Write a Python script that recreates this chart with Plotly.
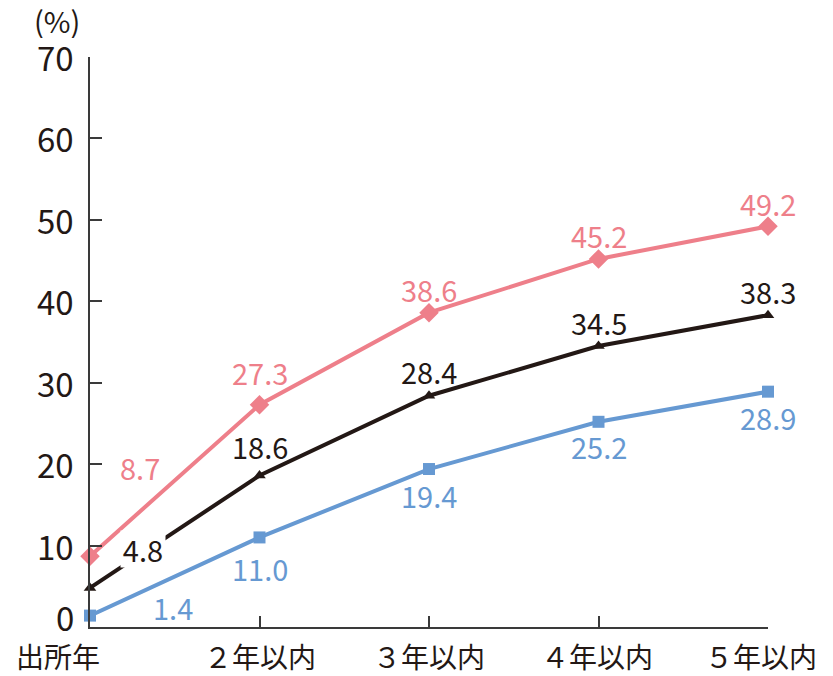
import plotly.graph_objects as go

categories = ["出所年", "２年以内", "３年以内", "４年以内", "５年以内"]
pink_vals = [8.7, 27.3, 38.6, 45.2, 49.2]
black_vals = [4.8, 18.6, 28.4, 34.5, 38.3]
blue_vals = [1.4, 11.0, 19.4, 25.2, 28.9]
y_ticks = [0, 10, 20, 30, 40, 50, 60, 70]

PINK = "#EE7F8A"
BLACK = "#231815"
BLUE = "#6699D2"
AXIS = "#3a3a3a"
FONT = "Noto Sans CJK JP"

fig = go.Figure()
series = [
    (pink_vals, PINK, "diamond", 15),
    (black_vals, BLACK, "triangle-up", 11),
    (blue_vals, BLUE, "square", 12),
]
xs = list(range(len(categories)))
for vals, col, sym, sz in series:
    fig.add_trace(go.Scatter(
        x=xs, y=vals, mode="lines+markers",
        line=dict(color=col, width=4),
        marker=dict(symbol=sym, size=sz, color=col),
        showlegend=False, hoverinfo="skip", cliponaxis=False,
    ))

# label offsets (xshift, yshift) in pixels
pink_off = [(50, 89), (0, 33), (0, 24), (0, 24), (0, 23)]
black_off = [(53, 39), (0, 30), (0, 25), (0, 24), (0, 24)]
blue_off = [(83, 9), (0, -31), (0, -26), (0, -24), (0, -25)]

ann = []
for vals, col, offs, bg in [(pink_vals, PINK, pink_off, None),
                            (black_vals, BLACK, black_off, "white"),
                            (blue_vals, BLUE, blue_off, None)]:
    for i, (v, (dx, dy)) in enumerate(zip(vals, offs)):
        a = dict(x=i, y=v, xref="x", yref="y", text=f"{v:.1f}", showarrow=False,
                 xshift=dx, yshift=dy, font=dict(family=FONT, size=29, color=col),
                 xanchor="center", yanchor="middle")
        if bg and i == 0:
            a.update(bgcolor=bg, borderpad=0, width=44, height=36)
        ann.append(a)

# x category labels
x_label_shift = [-32, 0, 0, -2, -7]
for i, c in enumerate(categories):
    ann.append(dict(x=i, y=0, xref="x", yref="y", text=c, showarrow=False,
                    xshift=x_label_shift[i], yshift=-10, yanchor="top", xanchor="center",
                    height=34,
                    font=dict(family=FONT, size=28, color=BLACK)))

# y tick labels
for t in y_ticks:
    ann.append(dict(x=0, y=t, xref="x", yref="y", text=str(t), showarrow=False,
                    xshift=-14, yshift=(10 if t == 0 else 0), xanchor="right", yanchor="middle",
                    height=34,
                    font=dict(family=FONT, size=33, color=BLACK)))

# (%) unit label
ann.append(dict(x=0, y=70, xref="x", yref="y", text="(%)", showarrow=False,
                xshift=-33, yshift=37, xanchor="center", yanchor="middle", height=36,
                font=dict(family=FONT, size=29, color=BLACK)))

fig.update_layout(
    width=833, height=676,
    margin=dict(l=90, r=65, t=57, b=49),
    paper_bgcolor="white", plot_bgcolor="white",
    annotations=ann,
    xaxis=dict(range=[0, 4], tickvals=xs, showticklabels=False, ticks="inside",
               ticklen=11, tickwidth=1.5, tickcolor=AXIS, showline=True, linecolor=AXIS,
               linewidth=1.5, showgrid=False, zeroline=False, fixedrange=True),
    yaxis=dict(range=[0, 70], tickvals=y_ticks, showticklabels=False, ticks="inside",
               ticklen=12, tickwidth=1.5, tickcolor=AXIS, showline=True, linecolor=AXIS,
               linewidth=1.5, showgrid=False, zeroline=False, fixedrange=True),
)

fig.write_html("out.html")
